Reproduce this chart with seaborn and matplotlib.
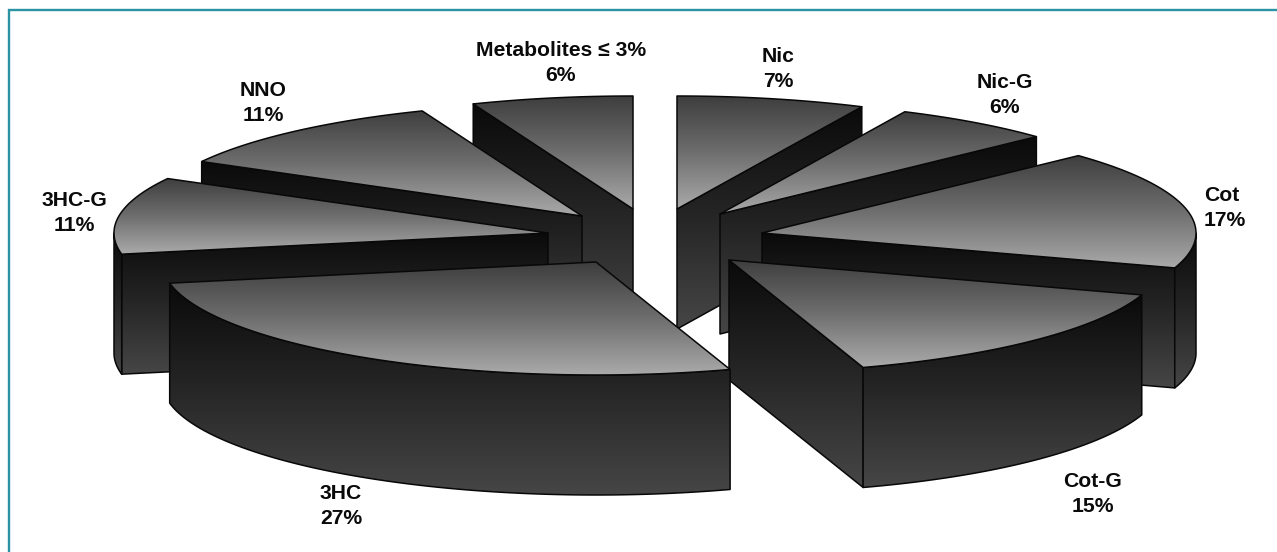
import numpy as np
import matplotlib
matplotlib.use("Agg")
import matplotlib.pyplot as plt
from matplotlib.patches import Polygon
import seaborn as sns

# Urinary nicotine metabolite shares, clockwise from twelve o'clock
names = ["Nic", "Nic-G", "Cot", "Cot-G", "3HC", "3HC-G", "NNO", "Metabolites \u2264 3%"]
shares = [7, 6, 17, 15, 27, 11, 11, 6]

# Layout of the exploded disc, in pixels
apex_x = [677, 720, 762, 729, 596, 548, 582, 633]
apex_y = [209, 214, 233, 260, 262, 233, 216, 209]
label_x = [778, 1005, 1225, 1093, 341, 74, 263, 561]
label_y = [69, 95, 208, 494, 506, 213, 103, 63]
label_align = ["center", "center", "left", "center", "center", "center", "center", "center"]
paint_order = [7, 0, 6, 1, 5, 2, 3, 4]
RX, RY, DEPTH = 434, 113, 120

sns.set_theme(style="white")
plt.rcParams["font.family"] = ["Liberation Sans", "DejaVu Sans"]

top_cmap = sns.blend_palette(["#3e3e3e", "#6e6e6e", "#aaaaaa"], as_cmap=True)
wall_cmap = sns.blend_palette(["#0a0a0a", "#262626", "#464646"], as_cmap=True)
ramp = np.linspace(0, 1, 256).reshape(-1, 1)

fig = plt.figure(figsize=(12.77, 5.52), dpi=100)
ax = fig.add_axes([0, 0, 1, 1])
ax.set_axis_off()

z = [2]


def shade(points, cmap):
    """Fill a polygon with a vertical gradient and a thin black outline."""
    pts = np.asarray(points)
    x0, y0 = pts.min(axis=0)
    x1, y1 = pts.max(axis=0)
    img = ax.imshow(ramp, extent=(x0, x1, y1, y0), origin="upper", aspect="auto",
                    cmap=cmap, vmin=0, vmax=1, zorder=z[0], interpolation="bilinear")
    patch = Polygon(pts, closed=True, fc="none", ec="#080808", lw=1.1,
                    joinstyle="round", zorder=z[0] + 0.5)
    ax.add_patch(patch)
    img.set_clip_path(patch)
    z[0] += 1


edges = np.concatenate([[0], np.cumsum(shares)]) * 3.6


def rim(cx, cy, deg):
    t = np.radians(deg)
    return np.column_stack([cx + RX * np.sin(t), cy - RY * np.cos(t)])


for i in paint_order:
    start, end = edges[i], edges[i + 1]
    cx, cy = apex_x[i], apex_y[i]
    arc = rim(cx, cy, np.linspace(start, end, 80))
    apex = np.array([[cx, cy]])
    drop = np.array([0, DEPTH])

    # Radial walls that turn towards the viewer
    if 180 < start < 360:
        edge = np.vstack([apex, arc[:1]])
        shade(np.vstack([edge, edge[::-1] + drop]), wall_cmap)
    if 0 < end < 180:
        edge = np.vstack([apex, arc[-1:]])
        shade(np.vstack([edge, edge[::-1] + drop]), wall_cmap)

    # Curved outer wall on the front half of the disc
    lo, hi = max(start, 90), min(end, 270)
    if lo < hi:
        front = rim(cx, cy, np.linspace(lo, hi, 80))
        shade(np.vstack([front, front[::-1] + drop]), wall_cmap)

    shade(np.vstack([apex, arc]), top_cmap)

for name, share, x, y, align in zip(names, shares, label_x, label_y, label_align):
    ax.text(x, y, f"{name}\n{share}%", ha="center", va="center", ma=align, fontsize=15.2,
            fontweight="bold", color="#0a0a0a", linespacing=1.42, zorder=50)

# Page rule: only the top and left sides are printed
ax.plot([8, 1277], [9.5, 9.5], color="#2b93a3", lw=1.7, zorder=60, solid_capstyle="butt")
ax.plot([8.5, 8.5], [9, 552], color="#2b93a3", lw=1.7, zorder=60, solid_capstyle="butt")

ax.set_xlim(0, 1277)
ax.set_ylim(552, 0)
fig.savefig("out.png", dpi=100, facecolor="white")
